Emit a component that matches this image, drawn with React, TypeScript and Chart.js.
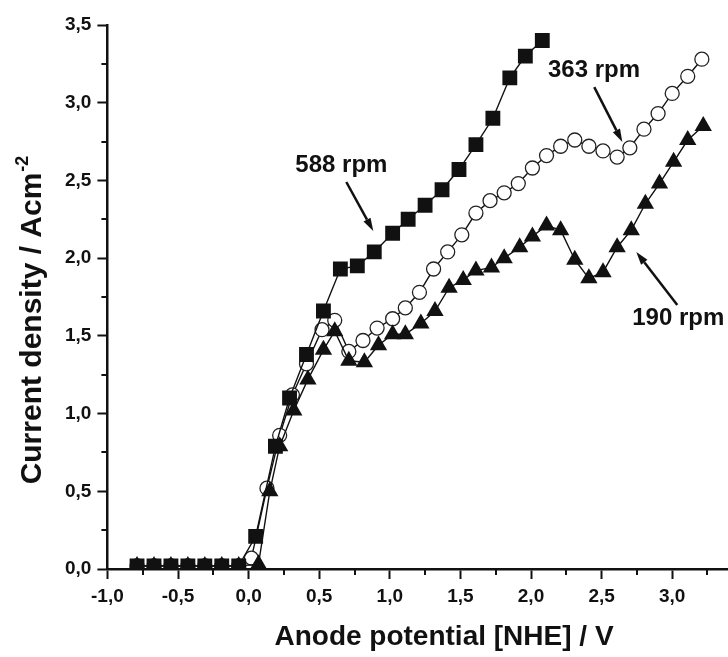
import React, { useEffect, useRef } from "react";
import { Chart, registerables } from "chart.js";

Chart.register(...registerables);

// ---- data ----
const flatX = [-0.79, -0.67, -0.55, -0.43, -0.31, -0.19, -0.07];
const flatY = [0.02, 0.02, 0.02, 0.02, 0.02, 0.02, 0.02];

const rpm588X = [...flatX, 0.05, 0.19, 0.29, 0.41, 0.53, 0.65, 0.77, 0.89, 1.02, 1.13, 1.25, 1.37, 1.49, 1.61, 1.73, 1.85, 1.96, 2.08];
const rpm588Y = [...flatY, 0.21, 0.79, 1.10, 1.38, 1.66, 1.93, 1.95, 2.04, 2.16, 2.25, 2.34, 2.44, 2.57, 2.73, 2.90, 3.16, 3.30, 3.40];

const rpm363X = [...flatX, 0.02, 0.13, 0.22, 0.31, 0.41, 0.52, 0.61, 0.71, 0.81, 0.91, 1.02, 1.11, 1.21, 1.31, 1.41, 1.51, 1.61, 1.71, 1.81, 1.91, 2.01, 2.11, 2.21, 2.31, 2.41, 2.51, 2.61, 2.70, 2.80, 2.90, 3.00, 3.11, 3.21];
const rpm363Y = [...flatY, 0.07, 0.52, 0.86, 1.12, 1.32, 1.54, 1.60, 1.40, 1.47, 1.55, 1.61, 1.68, 1.78, 1.93, 2.04, 2.15, 2.29, 2.37, 2.42, 2.48, 2.58, 2.66, 2.72, 2.76, 2.72, 2.69, 2.65, 2.71, 2.83, 2.93, 3.06, 3.17, 3.28];

const rpm190X = [...flatX, 0.07, 0.15, 0.22, 0.32, 0.42, 0.53, 0.61, 0.71, 0.82, 0.92, 1.02, 1.11, 1.22, 1.32, 1.42, 1.52, 1.61, 1.72, 1.81, 1.92, 2.01, 2.11, 2.21, 2.31, 2.41, 2.51, 2.61, 2.71, 2.81, 2.91, 3.01, 3.11, 3.22];
const rpm190Y = [...flatY, 0.03, 0.50, 0.79, 1.02, 1.22, 1.41, 1.53, 1.34, 1.33, 1.44, 1.51, 1.51, 1.58, 1.66, 1.81, 1.86, 1.92, 1.94, 2.00, 2.07, 2.14, 2.21, 2.18, 1.99, 1.87, 1.91, 2.07, 2.18, 2.35, 2.48, 2.62, 2.76, 2.85];

const xTickValues = [-1, -0.5, 0, 0.5, 1, 1.5, 2, 2.5, 3, 3.5];
const xTickLabels = ["-1,0", "-0,5", "0,0", "0,5", "1,0", "1,5", "2,0", "2,5", "3,0", "3,5"];
const yTickValues = [0, 0.5, 1, 1.5, 2, 2.5, 3, 3.5];
const yTickLabels = ["0,0", "0,5", "1,0", "1,5", "2,0", "2,5", "3,0", "3,5"];

const seriesNames = ["588 rpm", "363 rpm", "190 rpm"];

// annotation labels (data coordinates)
const annotations = [
  { text: "588 rpm", tx: 0.657, ty: 2.60, ax1: 0.692, ay1: 2.49, ax2: 0.883, ay2: 2.175 },
  { text: "363 rpm", tx: 2.446, ty: 3.21, ax1: 2.448, ay1: 3.10, ax2: 2.647, ay2: 2.748 },
  { text: "190 rpm", tx: 3.043, ty: 1.615, ax1: 3.036, ay1: 1.699, ax2: 2.746, ay2: 2.04 },
];

const FONT = '"Liberation Sans", Arial, Helvetica, sans-serif';
const INK = "#111";

const toPts = (xs: number[], ys: number[]) => xs.map((x, i) => ({ x, y: ys[i] }));
const isMajor = (v: number) => Math.abs(v * 2 - Math.round(v * 2)) < 1e-6;
const labelFor = (v: number, vals: number[], labels: string[]) => {
  const i = vals.findIndex((t) => Math.abs(t - v) < 1e-6);
  return i >= 0 ? labels[i] : "";
};

const decorPlugin = {
  id: "decor",
  afterDraw(chart: any) {
    const { ctx, scales, chartArea } = chart;
    const xs = scales.x;
    const ys = scales.y;
    ctx.save();
    // minor ticks
    ctx.strokeStyle = INK;
    ctx.lineWidth = 2;
    xs.ticks.forEach((t: any) => {
      if (!isMajor(t.value)) {
        const px = Math.round(xs.getPixelForValue(t.value));
        ctx.beginPath();
        ctx.moveTo(px, chartArea.bottom);
        ctx.lineTo(px, chartArea.bottom + 6);
        ctx.stroke();
      }
    });
    ys.ticks.forEach((t: any) => {
      if (!isMajor(t.value)) {
        const py = Math.round(ys.getPixelForValue(t.value));
        ctx.beginPath();
        ctx.moveTo(chartArea.left, py);
        ctx.lineTo(chartArea.left - 6, py);
        ctx.stroke();
      }
    });

    // annotations
    ctx.fillStyle = INK;
    ctx.strokeStyle = INK;
    ctx.font = `bold 24px ${FONT}`;
    ctx.textAlign = "center";
    ctx.textBaseline = "middle";
    annotations.forEach((a) => {
      ctx.fillText(a.text, xs.getPixelForValue(a.tx), ys.getPixelForValue(a.ty));
      const x1 = xs.getPixelForValue(a.ax1);
      const y1 = ys.getPixelForValue(a.ay1);
      const x2 = xs.getPixelForValue(a.ax2);
      const y2 = ys.getPixelForValue(a.ay2);
      const ang = Math.atan2(y2 - y1, x2 - x1);
      const hl = 13;
      const hw = 4;
      const bx = x2 - hl * Math.cos(ang);
      const by = y2 - hl * Math.sin(ang);
      ctx.lineWidth = 2.5;
      ctx.beginPath();
      ctx.moveTo(x1, y1);
      ctx.lineTo(bx, by);
      ctx.stroke();
      ctx.beginPath();
      ctx.moveTo(x2, y2);
      ctx.lineTo(bx + hw * Math.sin(ang), by - hw * Math.cos(ang));
      ctx.lineTo(bx - hw * Math.sin(ang), by + hw * Math.cos(ang));
      ctx.closePath();
      ctx.fill();
    });

    // axis titles
    ctx.font = `bold 28px ${FONT}`;
    ctx.textAlign = "center";
    ctx.textBaseline = "middle";
    ctx.fillText("Anode potential [NHE] / V", 444, 637);

    const main = "Current density / Acm";
    const sup = "-2";
    ctx.font = `bold 30px ${FONT}`;
    const wMain = ctx.measureText(main).width;
    ctx.font = `bold 18px ${FONT}`;
    const wSup = ctx.measureText(sup).width;
    const total = wMain + 1 + wSup;
    ctx.translate(41, 320);
    ctx.rotate(-Math.PI / 2);
    ctx.textAlign = "left";
    ctx.textBaseline = "alphabetic";
    ctx.font = `bold 30px ${FONT}`;
    ctx.fillText(main, -total / 2, 0);
    ctx.font = `bold 18px ${FONT}`;
    ctx.fillText(sup, -total / 2 + wMain + 1, -13);
    ctx.restore();
  },
};

export default function App() {
  const ref = useRef<HTMLCanvasElement | null>(null);

  useEffect(() => {
    if (!ref.current) return;
    const common = {
      showLine: true,
      borderColor: INK,
      borderWidth: 1.4,
      pointBorderColor: INK,
      tension: 0,
    };
    const chart = new Chart(ref.current, {
      type: "scatter",
      data: {
        datasets: [
          {
            ...common,
            label: seriesNames[0],
            order: 1,
            data: toPts(rpm588X, rpm588Y),
            pointStyle: "rect",
            pointRadius: 10.5,
            pointBackgroundColor: INK,
            pointBorderWidth: 0,
          },
          {
            ...common,
            label: seriesNames[1],
            order: 2,
            data: toPts(rpm363X, rpm363Y),
            pointStyle: "circle",
            pointRadius: 7,
            pointBackgroundColor: "#fff",
            pointBorderColor: "#222",
            pointBorderWidth: 1.3,
          },
          {
            ...common,
            label: seriesNames[2],
            order: 0,
            data: toPts(rpm190X, rpm190Y),
            pointStyle: "triangle",
            pointRadius: 10,
            pointBackgroundColor: INK,
            pointBorderWidth: 0,
          },
        ],
      },
      options: {
        responsive: false,
        animation: false,
        events: [],
        layout: { padding: { left: 0, top: 25, right: 27.2, bottom: 0 } },
        plugins: { legend: { display: false }, tooltip: { enabled: false }, title: { display: false } },
        scales: {
          x: {
            type: "linear",
            min: -1,
            max: 3.5,
            afterFit: (s: any) => {
              s.height = 88;
            },
            afterBuildTicks: (s: any) => {
              const t = [];
              for (let v = -1; v <= 3.5001; v += 0.25) t.push({ value: Math.round(v * 100) / 100 });
              s.ticks = t;
            },
            border: { display: true, color: INK, width: 2.5 },
            grid: {
              display: true,
              drawOnChartArea: false,
              drawTicks: true,
              tickLength: 10,
              tickWidth: 2,
              tickColor: (c: any) => (c.tick && isMajor(c.tick.value) ? INK : "rgba(0,0,0,0)"),
            },
            ticks: {
              autoSkip: false,
              maxRotation: 0,
              padding: 6,
              color: INK,
              font: { family: FONT, size: 19, weight: "bold" },
              callback: (v: any) => labelFor(Number(v), xTickValues, xTickLabels),
            },
          },
          y: {
            type: "linear",
            min: 0,
            max: 3.5,
            afterFit: (s: any) => {
              s.width = 107.4;
            },
            afterBuildTicks: (s: any) => {
              const t = [];
              for (let v = 0; v <= 3.5001; v += 0.25) t.push({ value: Math.round(v * 100) / 100 });
              s.ticks = t;
            },
            border: { display: true, color: INK, width: 2.5 },
            grid: {
              display: true,
              drawOnChartArea: false,
              drawTicks: true,
              tickLength: 10,
              tickWidth: 2,
              tickColor: (c: any) => (c.tick && isMajor(c.tick.value) ? INK : "rgba(0,0,0,0)"),
            },
            ticks: {
              autoSkip: false,
              padding: 6,
              color: INK,
              font: { family: FONT, size: 19, weight: "bold" },
              callback: (v: any) => labelFor(Number(v), yTickValues, yTickLabels),
            },
          },
        },
      },
      plugins: [decorPlugin],
    });
    return () => chart.destroy();
  }, []);

  return (
    <div
      style={{
        position: "fixed",
        left: 0,
        top: 0,
        width: 728,
        height: 657,
        overflow: "hidden",
        background: "#fff",
      }}
    >
      <canvas ref={ref} width={770} height={657} style={{ display: "block" }} />
    </div>
  );
}
